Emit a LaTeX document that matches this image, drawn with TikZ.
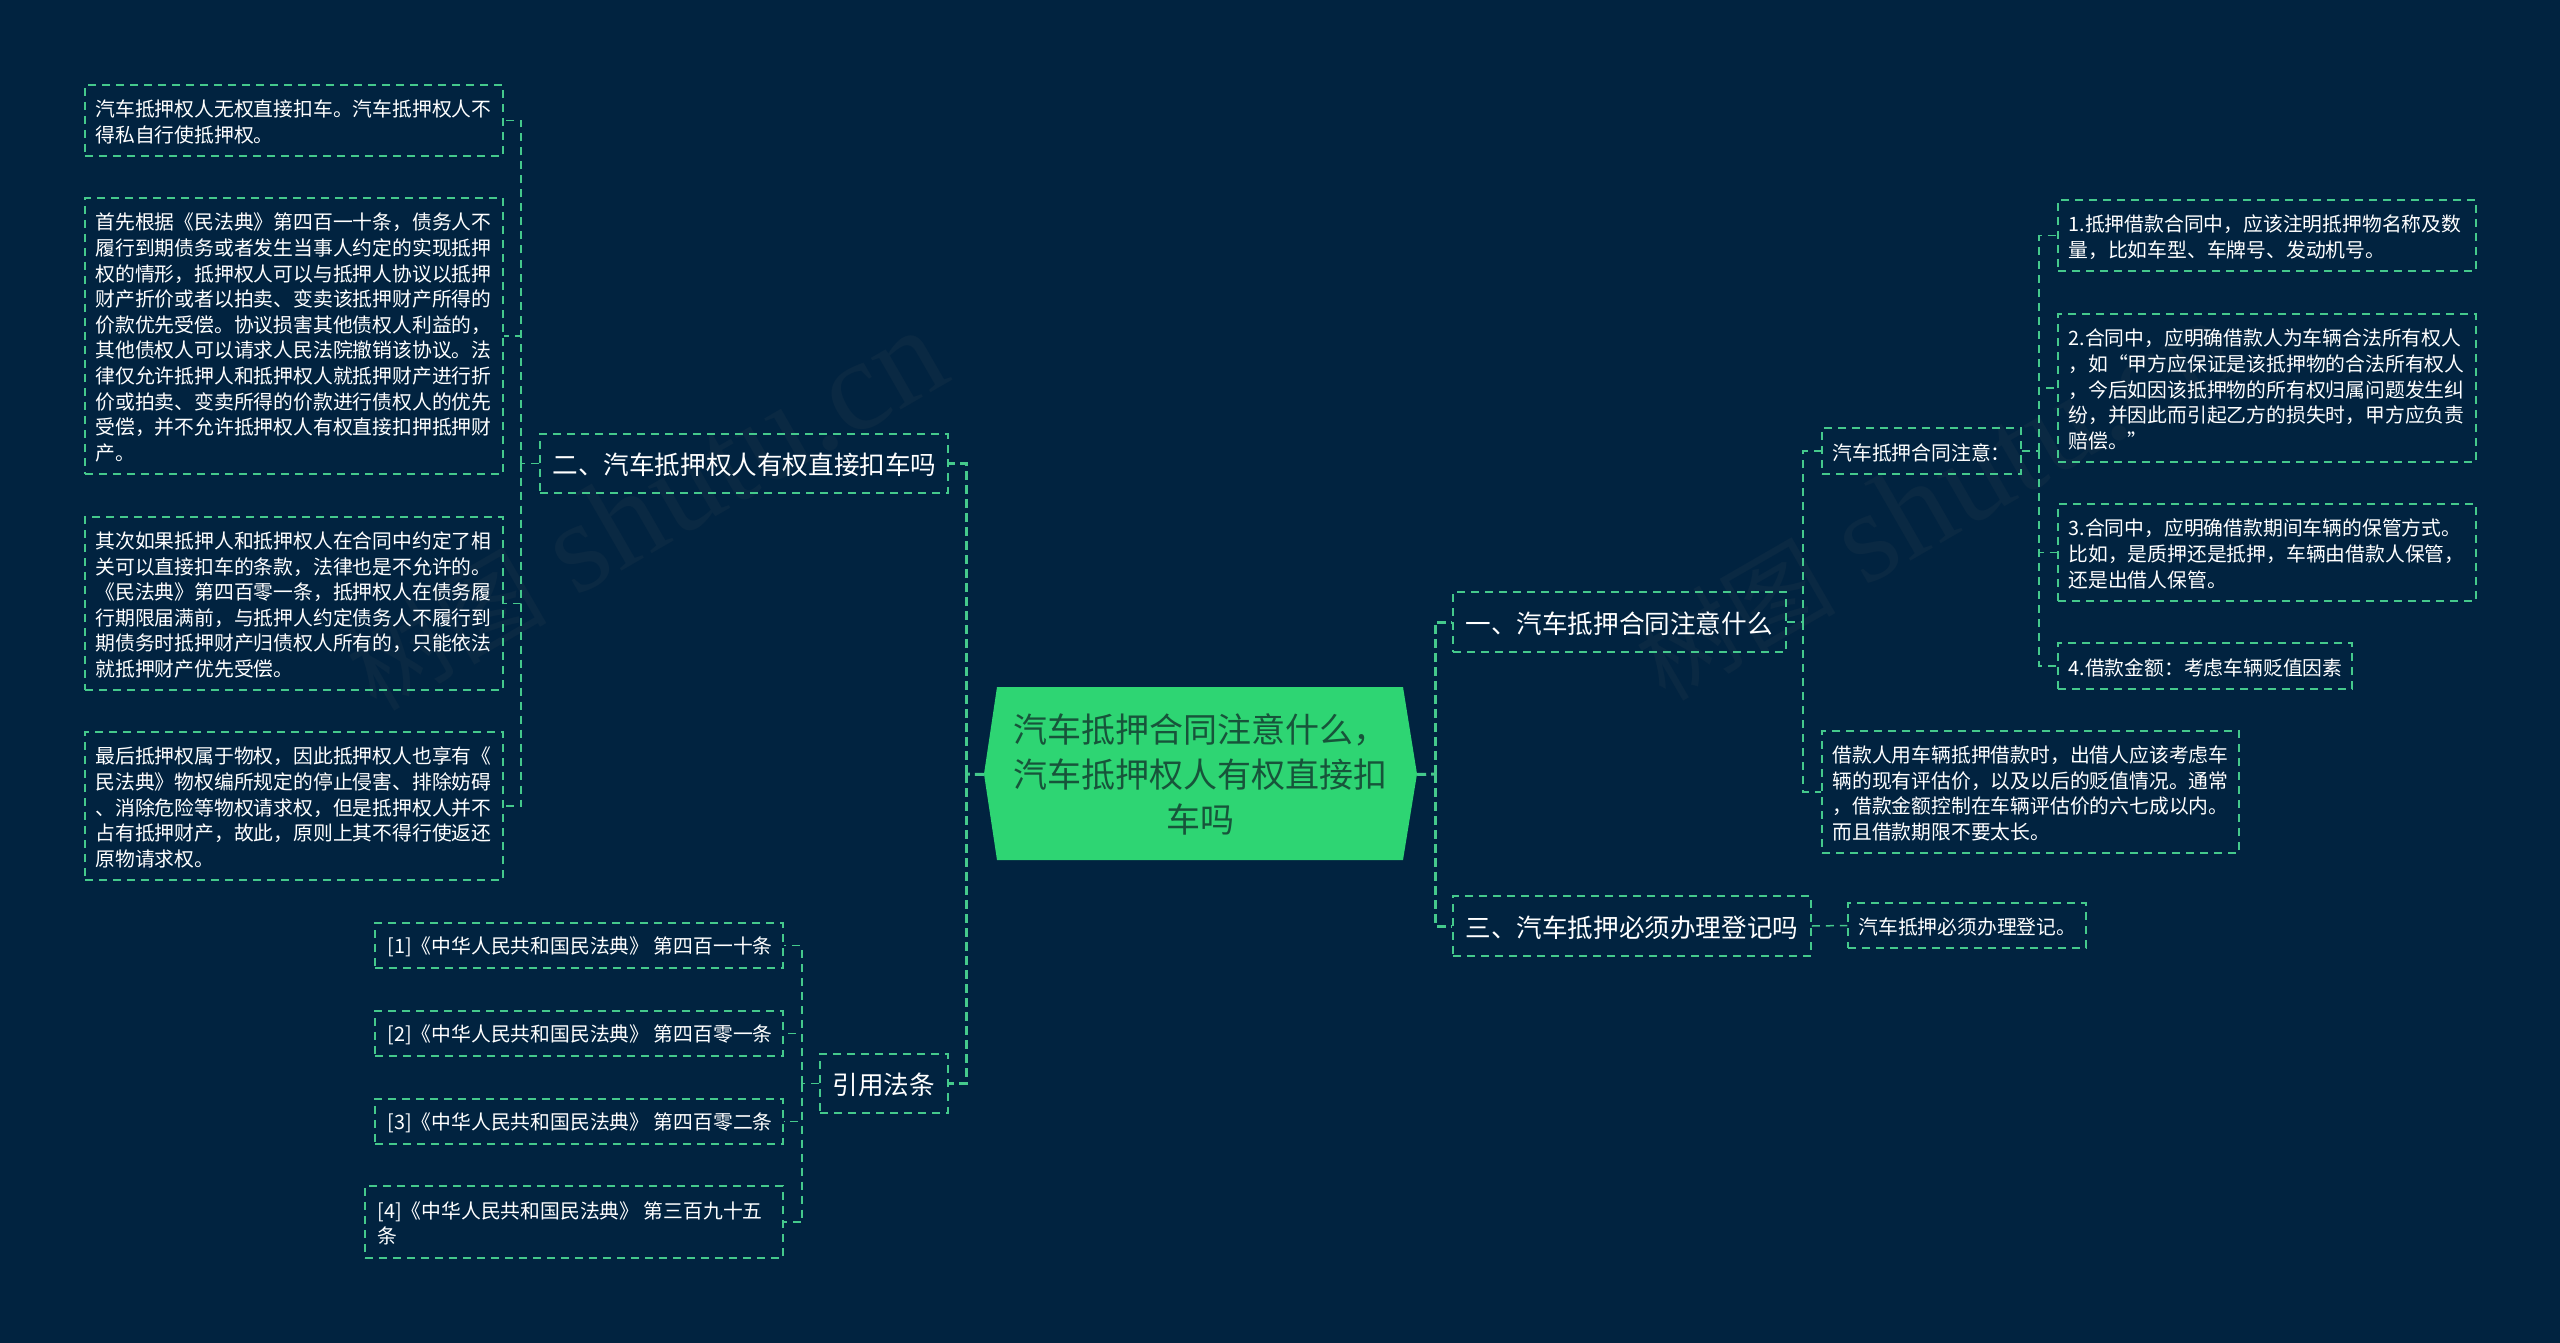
\documentclass[tikz,border=0pt]{standalone}
\usepackage{fontspec}
\setmainfont{Noto Sans CJK SC}
\newfontfamily\wmlatin{Liberation Serif}
\definecolor{bgc}{HTML}{012340}
\definecolor{linec}{HTML}{45C98C}
\definecolor{hubc}{HTML}{2ED573}
\definecolor{hubt}{HTML}{17543A}
\definecolor{wmc}{HTML}{0A2943}
\usetikzlibrary{calc}
\tikzset{
  leafbox/.style={draw=linec,line width=1.5pt,dash pattern=on 8pt off 6pt,text=white,inner sep=0pt,font=\fontsize{19.8}{25.6}\selectfont},
  branchbox/.style={leafbox,font=\fontsize{25.6}{32}\selectfont},
  thin link/.style={draw=linec,line width=1.5pt,dash pattern=on 8pt off 6pt},
  thick link/.style={draw=linec,line width=3pt,dash pattern=on 9pt off 5pt},
  hubnode/.style={text=hubt,align=center,inner sep=0pt,font=\fontsize{34}{45}\selectfont},
  wmark/.style={text=wmc,rotate=30}
}
% name, x1, y1, x2, y2, left padding, style, text
\newcommand{\bx}[8]{%
  \node[#7,minimum width={#4-#2},minimum height={#5-#3}]
    (#1) at ({(#2+#4)/2},{(#3+#5)/2})
    {\hspace*{#6pt}\raisebox{-1.5pt}[\height][\depth]{\parbox{\dimexpr #4pt-#2pt-#6pt-1pt\relax}{\raggedright #8}}};}
\newcommand{\wmtext}{{\fontsize{100}{110}\selectfont 树图}\hspace{30pt}{\wmlatin\fontsize{130}{140}\selectfont shutu.cn}}
\begin{document}
\begin{tikzpicture}[x=1pt,y=-1pt]
\useasboundingbox (0,0) rectangle (2560,1343);
\fill[bgc] (0,0) rectangle (2560,1343);
% watermarks
\node[wmark] (wm1) at (645,510) {\wmtext};
\node[wmark] (wm2) at (1934,500) {\wmtext};
% hub
\fill[hubc] (997,687) -- (1403,687) -- (1417,774) -- (1403,860) -- (997,860) -- (984,774) -- cycle;
\node[hubnode,minimum width=433,minimum height=173,text width=433] (hub) at (1200.5,774.5) {汽车抵押合同注意什么，\\汽车抵押权人有权直接扣\\车吗};
% branches
\bx{b2}{540}{434}{948}{493}{12}{branchbox}{二、汽车抵押权人有权直接扣车吗}
\bx{b4}{820}{1054}{948}{1113}{12}{branchbox}{引用法条}
\bx{b1}{1453}{592}{1786}{652}{12}{branchbox}{一、汽车抵押合同注意什么}
\bx{b3}{1453}{896}{1811}{956}{12}{branchbox}{三、汽车抵押必须办理登记吗}
% left leaves
\bx{a1}{85}{85}{503}{156}{10}{leafbox}{汽车抵押权人无权直接扣车。汽车抵押权人不\\得私自行使抵押权。}
\bx{a2}{85}{198}{503}{474}{10}{leafbox}{首先根据《民法典》第四百一十条，债务人不\\履行到期债务或者发生当事人约定的实现抵押\\权的情形，抵押权人可以与抵押人协议以抵押\\财产折价或者以拍卖、变卖该抵押财产所得的\\价款优先受偿。协议损害其他债权人利益的，\\其他债权人可以请求人民法院撤销该协议。法\\律仅允许抵押人和抵押权人就抵押财产进行折\\价或拍卖、变卖所得的价款进行债权人的优先\\受偿，并不允许抵押权人有权直接扣押抵押财\\产。}
\bx{a3}{85}{517}{503}{690}{10}{leafbox}{其次如果抵押人和抵押权人在合同中约定了相\\关可以直接扣车的条款，法律也是不允许的。\\《民法典》第四百零一条，抵押权人在债务履\\行期限届满前，与抵押人约定债务人不履行到\\期债务时抵押财产归债权人所有的，只能依法\\就抵押财产优先受偿。}
\bx{a4}{85}{732}{503}{880}{10}{leafbox}{最后抵押权属于物权，因此抵押权人也享有《\\民法典》物权编所规定的停止侵害、排除妨碍\\、消除危险等物权请求权，但是抵押权人并不\\占有抵押财产，故此，原则上其不得行使返还\\原物请求权。}
% law leaves
\bx{l1}{375}{923}{783}{968}{12}{leafbox}{[1]《中华人民共和国民法典》 第四百一十条}
\bx{l2}{375}{1011}{783}{1056}{12}{leafbox}{[2]《中华人民共和国民法典》 第四百零一条}
\bx{l3}{375}{1099}{783}{1144}{12}{leafbox}{[3]《中华人民共和国民法典》 第四百零二条}
\bx{l4}{365}{1186}{783}{1258}{12}{leafbox}{[4]《中华人民共和国民法典》 第三百九十五\\条}
% right
\bx{c1}{1822}{428}{2021}{474}{10}{leafbox}{汽车抵押合同注意：}
\bx{c2}{1822}{731}{2239}{853}{10}{leafbox}{借款人用车辆抵押借款时，出借人应该考虑车\\辆的现有评估价，以及以后的贬值情况。通常\\，借款金额控制在车辆评估价的六七成以内。\\而且借款期限不要太长。}
\bx{d1}{2058}{200}{2476}{271}{10}{leafbox}{1.抵押借款合同中，应该注明抵押物名称及数\\量，比如车型、车牌号、发动机号。}
\bx{d2}{2058}{314}{2476}{462}{10}{leafbox}{2.合同中，应明确借款人为车辆合法所有权人\\，如“甲方应保证是该抵押物的合法所有权人\\，今后如因该抵押物的所有权归属问题发生纠\\纷，并因此而引起乙方的损失时，甲方应负责\\赔偿。”}
\bx{d3}{2058}{504}{2476}{601}{10}{leafbox}{3.合同中，应明确借款期间车辆的保管方式。\\比如，是质押还是抵押，车辆由借款人保管，\\还是出借人保管。}
\bx{d4}{2058}{643}{2352}{689}{10}{leafbox}{4.借款金额：考虑车辆贬值因素}
\bx{e1}{1848}{903}{2086}{948}{10}{leafbox}{汽车抵押必须办理登记。}
% junctions
\coordinate (jl) at (966,774);
\coordinate (jr) at (1435,774);
\coordinate (ja) at (521,463.5);
\coordinate (jb) at (802,1083.5);
\coordinate (jc) at (1803,622);
\coordinate (jd) at (2039,451);
% thick links
\draw[thick link] (hub.west) -- (jl);
\draw[thick link] (jl) |- (b2.east);
\draw[thick link] (jl) |- (b4.east);
\draw[thick link] (hub.east) -- (jr);
\draw[thick link] (jr) |- (b1.west);
\draw[thick link] (jr) |- (b3.west);
% thin links
\draw[thin link] (b2.west) -- (ja);
\foreach \n in {a1,a2,a3,a4} \draw[thin link] (ja) |- (\n.east);
\draw[thin link] (b4.west) -- (jb);
\foreach \n in {l1,l2,l3,l4} \draw[thin link] (jb) |- (\n.east);
\draw[thin link] (b1.east) -- (jc);
\foreach \n in {c1,c2} \draw[thin link] (jc) |- (\n.west);
\draw[thin link] (c1.east) -- (jd);
\foreach \n in {d1,d2,d3,d4} \draw[thin link] (jd) |- (\n.west);
\draw[thin link] (b3.east) -- (e1.west);
\end{tikzpicture}
\end{document}
